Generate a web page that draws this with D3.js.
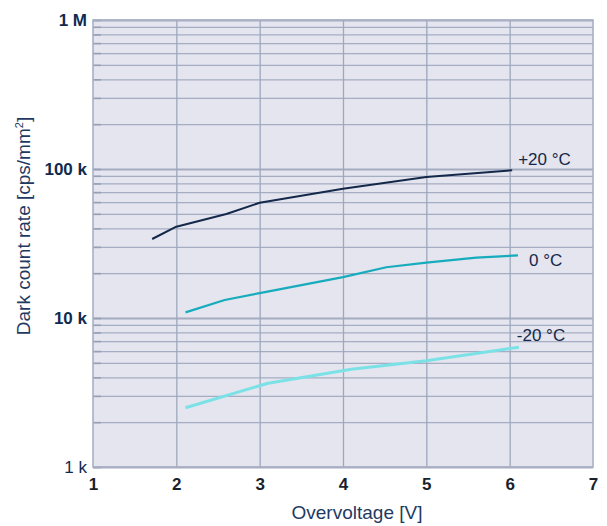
<!DOCTYPE html>
<html><head><meta charset="utf-8">
<script src="https://cdn.jsdelivr.net/npm/d3@7"></script>
<style>body{margin:0;background:#fff;} svg{display:block;font-family:"Liberation Sans",Arial,sans-serif;}</style>
</head><body>
<svg id="c" width="607" height="526"></svg>
<script>
const seriesNames = ["+20 °C", "0 °C", "-20 °C"];
const volt20 = [1.71, 2.0, 2.6, 3.0, 4.0, 5.0, 6.03];
const rate20 = [33900, 41000, 49900, 59400, 73800, 88500, 98100];
const volt0 = [2.11, 2.58, 3.0, 4.0, 4.52, 5.0, 5.6, 6.1];
const rate0 = [10900, 13200, 14700, 18800, 21900, 23500, 25400, 26300];
const voltM20 = [2.11, 3.1, 4.1, 5.0, 6.11];
const rateM20 = [2500, 3650, 4530, 5170, 6360];
const xTicks = [1, 2, 3, 4, 5, 6, 7];
const yMajor = [1e3, 1e4, 1e5, 1e6];
const yMajorLabels = ["1 k", "10 k", "100 k", "1 M"];

const svg = d3.select("#c");
const L = 93, T = 20, R = 593, B = 467;
const x = d3.scaleLinear().domain([1, 7]).range([L, R]);
const y = d3.scaleLog().domain([1e3, 1e6]).range([B, T]);

svg.append("rect").attr("x", L).attr("y", T).attr("width", R - L).attr("height", B - T).attr("fill", "#e4e5ee");

const minor = [];
[1e3, 1e4, 1e5].forEach(d => { for (let k = 2; k <= 9; k++) minor.push(d * k); });

svg.append("g").attr("transform", `translate(${L},0)`)
  .call(d3.axisLeft(y).tickValues(minor).tickSize(-(R - L)).tickFormat(""))
  .call(g => g.select(".domain").remove())
  .call(g => g.selectAll("line").attr("stroke", "#a5adc2").attr("stroke-width", 1.3));
svg.append("g").attr("transform", `translate(${L},0)`)
  .call(d3.axisLeft(y).tickValues(yMajor).tickSize(-(R - L)).tickFormat(""))
  .call(g => g.select(".domain").remove())
  .call(g => g.selectAll("line").attr("stroke", "#a3abc0").attr("stroke-width", 2.2));
svg.append("g").attr("transform", `translate(0,${B})`)
  .call(d3.axisBottom(x).tickValues(xTicks.slice(1, -1)).tickSize(-(B - T)).tickFormat(""))
  .call(g => g.select(".domain").remove())
  .call(g => g.selectAll("line").attr("stroke", "#9ea7bc").attr("stroke-width", 1.3));
svg.append("g").attr("transform", `translate(${L},0)`)
  .call(d3.axisLeft(y).tickValues(minor.concat(yMajor)).tickSize(-8).tickFormat(""))
  .call(g => g.select(".domain").remove())
  .call(g => g.selectAll("line").attr("stroke", "#97a0b7").attr("stroke-width", 1.6));

svg.append("rect").attr("x", L).attr("y", T).attr("width", R - L).attr("height", B - T)
  .attr("fill", "none").attr("stroke", "#a9b0c5").attr("stroke-width", 1.6);

svg.append("g").attr("transform", `translate(${L},0)`)
  .call(d3.axisLeft(y).tickValues(yMajor).tickSize(0).tickPadding(6).tickFormat((d, i) => yMajorLabels[i]))
  .call(g => g.select(".domain").remove())
  .call(g => g.selectAll("text").attr("fill", "#0f2a4f").attr("font-size", 17)
    .attr("font-family", '"Liberation Sans",Arial,sans-serif')
    .attr("font-weight", d => d === 1e3 ? "normal" : "bold"));

svg.append("g").attr("transform", `translate(0,${B})`)
  .call(d3.axisBottom(x).tickValues(xTicks).tickSize(0).tickPadding(11).tickFormat(d3.format("d")))
  .call(g => g.select(".domain").remove())
  .call(g => g.selectAll("text").attr("fill", "#1a1f2c").attr("font-size", 17)
    .attr("font-family", '"Liberation Sans",Arial,sans-serif').attr("font-weight", "bold"));

const line = d3.line().x(d => x(d[0])).y(d => y(d[1]));
const series = [
  {name: seriesNames[0], v: volt20, r: rate20, color: "#14284a", w: 2, dx: 6, dy: -5},
  {name: seriesNames[1], v: volt0, r: rate0, color: "#17acbd", w: 2.2, dx: 11, dy: 11},
  {name: seriesNames[2], v: voltM20, r: rateM20, color: "#7ae2e6", w: 3, dx: -2, dy: -6}
];
series.forEach(s => {
  const pts = s.v.map((v, i) => [v, s.r[i]]);
  svg.append("path").attr("d", line(pts)).attr("fill", "none")
    .attr("stroke", s.color).attr("stroke-width", s.w).attr("stroke-linejoin", "round");
  const last = pts[pts.length - 1];
  svg.append("text").attr("x", x(last[0]) + s.dx).attr("y", y(last[1]) + s.dy)
    .attr("fill", "#15284a").attr("font-size", 17).text(s.name);
});

svg.append("text").attr("x", 357).attr("y", 519).attr("text-anchor", "middle")
  .attr("fill", "#1f3a62").attr("font-size", 19).text("Overvoltage [V]");
const yt = svg.append("text").attr("transform", "translate(30,226) rotate(-90)").attr("text-anchor", "middle")
  .attr("fill", "#1f3a62").attr("font-size", 19);
yt.append("tspan").text("Dark count rate [cps/mm");
yt.append("tspan").attr("font-size", 11).attr("dy", -7).text("2");
yt.append("tspan").attr("dy", 7).text("]");
</script>
</body></html>
